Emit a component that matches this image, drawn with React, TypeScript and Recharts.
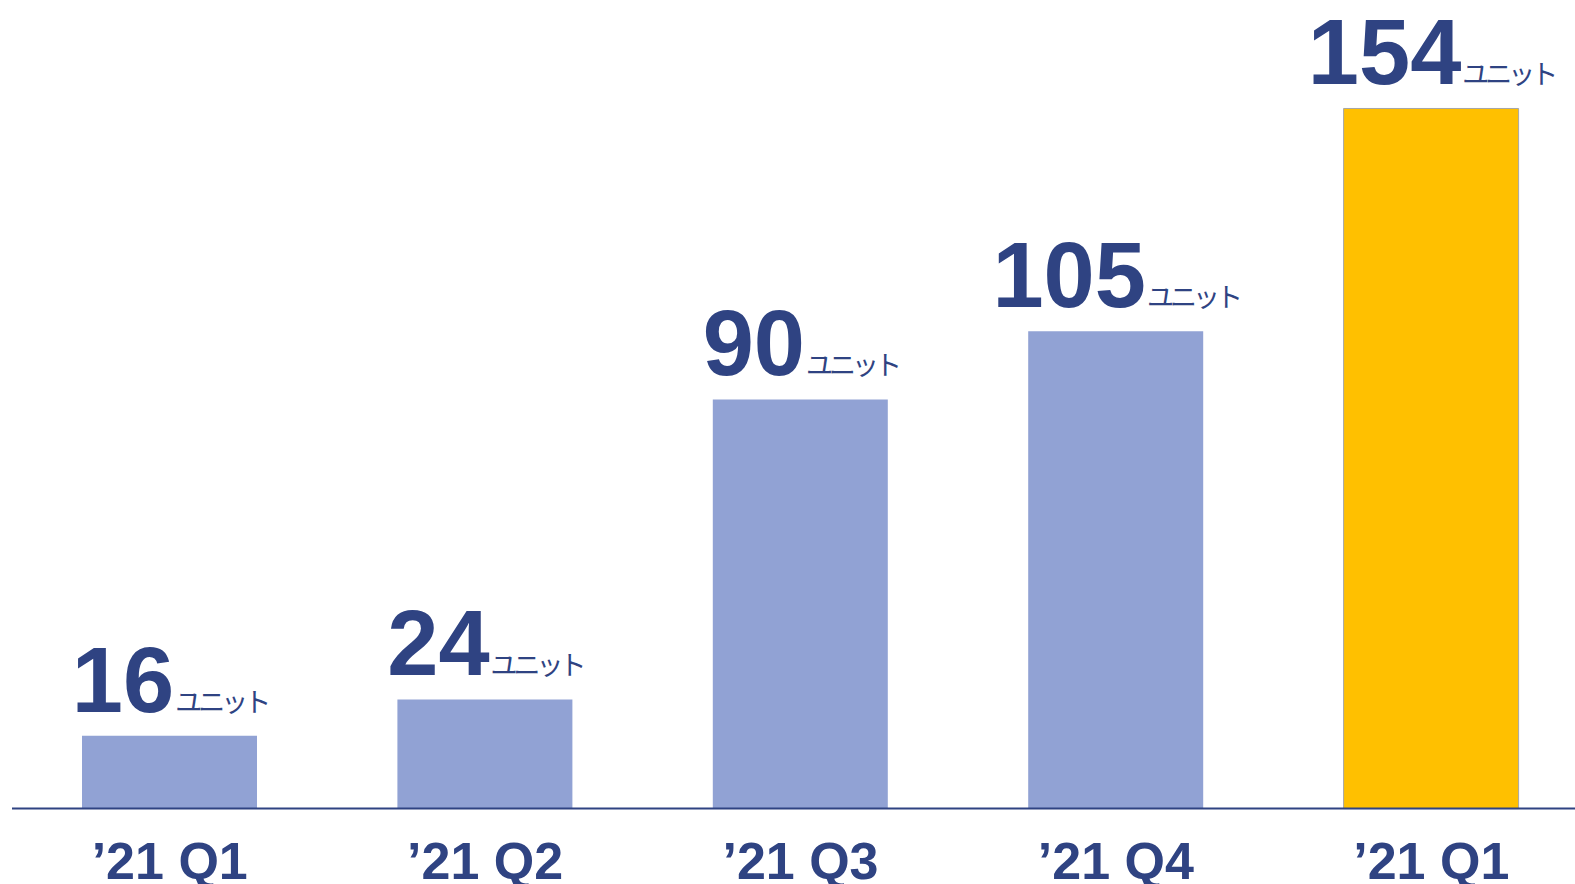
import React from "react";
import { BarChart, Bar, XAxis, YAxis, Cell, LabelList } from "recharts";

const categories = ["’21 Q1", "’21 Q2", "’21 Q3", "’21 Q4", "’21 Q1"];
const values = [16, 24, 90, 105, 154];
const unitLabel = "ユニット";
const highlightIndex = 4;

const data = categories.map((c, i) => ({ key: `c${i}`, name: c, value: values[i] }));

const NAVY = "#2F4382";
const BAR = "#91A2D4";
const YELLOW = "#FFC000";
const FONT = "'Liberation Sans', Arial, 'Noto Sans CJK JP', sans-serif";

const W = 1582;
const H = 888;
const AXIS_H = 79.4;

const ValueLabel = (props: any) => {
  const { x, y, width, value } = props;
  return (
    <text
      x={x + width / 2}
      y={y - 24}
      textAnchor="middle"
      fill={NAVY}
      fontFamily={FONT}
    >
      <tspan fontSize={92} fontWeight="bold">{value}</tspan>
      <tspan fontSize={27} fontFamily="'Noto Sans CJK JP', sans-serif" letterSpacing={-4} dx={1}>{unitLabel}</tspan>
    </text>
  );
};

const CatTick = (props: any) => {
  const { x, payload, index } = props;
  return (
    <text x={x} y={H - AXIS_H + 70.5} textAnchor="middle" fill={NAVY} fontFamily={FONT} fontSize={52} fontWeight="bold">
      {categories[index] ?? payload.value}
    </text>
  );
};

export default function App() {
  return (
    <div style={{ position: "absolute", left: 0, top: 0, width: W, height: H, overflow: "hidden", background: "#fff" }}>
      <BarChart
        width={W}
        height={H}
        data={data}
        margin={{ top: 13, right: -7, bottom: 0, left: 12 }}
        barSize={175}
      >
        <XAxis
          dataKey="key"
          height={AXIS_H}
          tickLine={false}
          axisLine={{ stroke: NAVY, strokeWidth: 2 }}
          tick={<CatTick />}
          interval={0}
        />
        <YAxis hide domain={[0, 175]} />
        <Bar dataKey="value" isAnimationActive={false}>
          {data.map((d, i) => (
            <Cell
              key={d.key}
              fill={i === highlightIndex ? YELLOW : BAR}
              stroke={i === highlightIndex ? "#A6A6A6" : "none"}
              strokeWidth={1}
            />
          ))}
          <LabelList dataKey="value" content={<ValueLabel />} />
        </Bar>
      </BarChart>
    </div>
  );
}
